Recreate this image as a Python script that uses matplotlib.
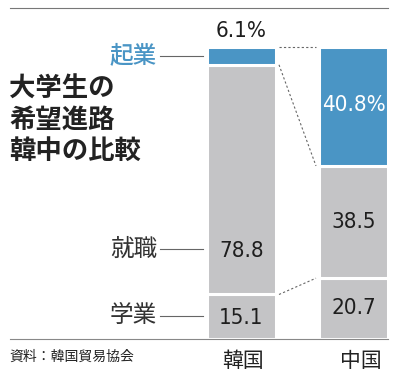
import matplotlib
matplotlib.use("Agg")
import matplotlib.pyplot as plt
import numpy as np

countries = ["韓国", "中国"]
categories = ["学業", "就職", "起業"]
korea = [15.1, 78.8, 6.1]
china = [20.7, 38.5, 40.8]
value_labels = {"韓国": ["15.1", "78.8", "6.1%"], "中国": ["20.7", "38.5", "40.8%"]}
title = "大学生の\n希望進路\n韓中の比較"
source = "資料：韓国貿易協会"

BLUE = "#4a95c5"
GRAY = "#c4c4c6"
JP = ["Noto Sans CJK JP", "DejaVu Sans"]

W, H = 400, 382
fig = plt.figure(figsize=(W / 100, H / 100), dpi=100)


def px(x, y):
    return x / W, 1 - y / H


y0, y100 = 338.5, 47
ax = fig.add_axes([0, (H - y0) / H, 1, (y0 - y100) / H])
ax.set_xlim(0, W)
ax.set_ylim(0, 100)
ax.axis("off")

centers = [241.5, 353.5]
width = 69
seg_colors = [GRAY, GRAY, BLUE]
for cx, vals in zip(centers, [korea, china]):
    bottoms = np.concatenate([[0], np.cumsum(vals)[:-1]])
    ax.bar(cx, vals, width=width, bottom=bottoms, color=seg_colors,
           edgecolor="white", linewidth=2.2)

# dotted connectors between the two bars
ck, cc = np.cumsum(korea), np.cumsum(china)
xl, xr = centers[0] + width / 2 + 3, centers[1] - width / 2 - 3
for yk, yc in zip(ck, cc):
    ax.plot([xl, xr], [yk, yc], color="#666666", lw=0.8, ls=(0, (2, 2)),
            clip_on=False)

# value labels (condensed numerals)
lab_y = {"韓国": [7.2, 30.0, 105.5], "中国": [10.4, 39.8, 80.1]}
for cx, c in zip(centers, countries):
    for i, t in enumerate(value_labels[c]):
        col = "white" if (c == "中国" and i == 2) else "#1e1e1e"
        ax.text(cx, lab_y[c][i], t, ha="center", va="center", fontsize=16,
                family="DejaVu Sans", stretch="condensed", weight="medium",
                color=col, clip_on=False)

# category labels with leader lines
cat_y = {"起業": 56, "就職": 249, "学業": 316}
for cat in categories:
    yy = cat_y[cat]
    col = BLUE if cat == "起業" else "#333333"
    fig.text(*px(157, yy), cat, ha="right", va="center", fontsize=17,
             family=JP, color=col,
             fontweight="medium" if cat == "起業" else "normal")
    fig.add_artist(plt.Line2D([160 / W, 203 / W], [1 - yy / H] * 2,
                              color="#666666", lw=0.8))

fig.text(*px(9, 120), title, ha="left", va="center", fontsize=19,
         family=JP, fontweight="bold", color="#222222", linespacing=1.2)

# rules
fig.add_artist(plt.Line2D([10 / W, 388 / W], [1 - 7.5 / H] * 2,
                          color="#777777", lw=0.8))
fig.add_artist(plt.Line2D([10 / W, 388 / W], [1 - 339 / H] * 2,
                          color="#888888", lw=0.8))

fig.text(*px(9, 357), source, ha="left", va="center", fontsize=10,
         family=JP, color="#222222")
for x, c in zip([243, 361], countries):
    fig.text(*px(x, 361), c, ha="center", va="center", fontsize=15,
             family=JP, color="#222222")

fig.savefig("out.png", dpi=100, facecolor="white")
